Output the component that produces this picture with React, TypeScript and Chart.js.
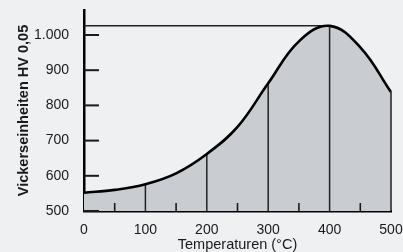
import React, { useEffect, useRef } from 'react';
import { Chart, registerables } from 'chart.js';

Chart.register(...registerables);

// ---- data ----
const temperatures = [0, 50, 100, 150, 200, 250, 300, 350, 400, 450, 500];
const hardness = [552, 560, 576, 607, 662, 739, 863, 982, 1026, 965, 838];
const dropTemps = [100, 200, 300, 400, 500];
const minorTemps = [50, 150, 250, 350, 450];
const xTickValues = [0, 100, 200, 300, 400, 500];
const xTickLabels = ['0', '100', '200', '300', '400', '500'];
const yTickValues = [500, 600, 700, 800, 900, 1000];
const yTickLabels = ['500', '600', '700', '800', '900', '1.000'];
const xTitle = 'Temperaturen (°C)';
const yTitle = 'Vickerseinheiten HV 0,05';

const BG = '#eff0f2';
const FILL = '#c9cdd1';
const INK = '#1a1a1a';
const FONT = '"Liberation Sans", Arial, sans-serif';

const innerTicks = {
  id: 'innerTicks',
  afterDatasetsDraw(chart: any) {
    const { ctx, scales } = chart;
    const x = scales.x;
    const y = scales.y;
    ctx.save();
    ctx.strokeStyle = INK;
    ctx.lineWidth = 2;
    const left = x.getPixelForValue(x.min);
    yTickValues.forEach((v) => {
      const py = y.getPixelForValue(v);
      ctx.beginPath();
      ctx.moveTo(left, py);
      ctx.lineTo(left + 15, py);
      ctx.stroke();
    });
    ctx.lineWidth = 1.6;
    const base = y.getPixelForValue(y.min);
    minorTemps.forEach((t) => {
      const px = x.getPixelForValue(t);
      ctx.beginPath();
      ctx.moveTo(px, base);
      ctx.lineTo(px, base - 8);
      ctx.stroke();
    });
    ctx.restore();
  },
};

export default function App() {
  const ref = useRef<HTMLCanvasElement | null>(null);

  useEffect(() => {
    document.body.style.margin = '0';
    document.body.style.background = BG;
    const canvas = ref.current;
    if (!canvas) return;

    const peakValue = Math.max(...hardness);
    const peakTemp = temperatures[hardness.indexOf(peakValue)];
    const yMin = yTickValues[0];

    const lineStyle = {
      borderColor: '#222',
      borderWidth: 1.5,
      pointRadius: 0,
      fill: false,
      clip: false as any,
      order: 1,
    };

    const drops = dropTemps.map((t) => ({
      ...lineStyle,
      label: 'drop ' + t,
      data: [
        { x: t, y: yMin },
        { x: t, y: hardness[temperatures.indexOf(t)] },
      ],
    }));

    const chart = new Chart(canvas, {
      type: 'line',
      data: {
        datasets: [
          {
            label: 'Härte',
            data: temperatures.map((t, i) => ({ x: t, y: hardness[i] })),
            borderColor: '#000',
            borderWidth: 2.6,
            backgroundColor: FILL,
            fill: 'start',
            pointRadius: 0,
            tension: 0.4,
            clip: false as any,
            order: 0,
          },
          ...drops,
          {
            ...lineStyle,
            label: 'peak',
            data: [
              { x: 0, y: peakValue },
              { x: peakTemp, y: peakValue },
            ],
          },
        ] as any,
      },
      options: {
        animation: false,
        responsive: true,
        maintainAspectRatio: false,
        layout: { padding: { top: 10, right: 12, left: 0, bottom: 0 } },
        plugins: {
          legend: { display: false },
          tooltip: { enabled: false },
          filler: { drawTime: 'beforeDatasetsDraw' } as any,
        },
        scales: {
          x: {
            type: 'linear',
            min: 0,
            max: 500,
            afterBuildTicks: (s: any) => {
              s.ticks = xTickValues.map((v) => ({ value: v }));
            },
            afterFit: (s: any) => {
              s.height = 41;
              s.paddingLeft = 0;
              s.paddingRight = 0;
            },
            ticks: {
              callback: (v: any) => xTickLabels[xTickValues.indexOf(Number(v))] ?? '',
              font: { family: FONT, size: 14 },
              color: INK,
              padding: 3,
              maxRotation: 0,
              autoSkip: false,
            },
            grid: { display: false },
            border: { display: true, color: '#000', width: 2.5 },
            title: {
              display: true,
              text: xTitle,
              font: { family: FONT, size: 14.5 },
              color: INK,
              padding: { top: 0, bottom: -2 },
            },
          },
          y: {
            type: 'linear',
            min: 500,
            max: 1071,
            afterBuildTicks: (s: any) => {
              s.ticks = yTickValues.map((v) => ({ value: v }));
            },
            afterFit: (s: any) => {
              s.width = 84;
              s.paddingTop = 0;
              s.paddingBottom = 0;
            },
            ticks: {
              callback: (v: any) => yTickLabels[yTickValues.indexOf(Number(v))] ?? '',
              font: { family: FONT, size: 14 },
              color: INK,
              padding: 7,
              autoSkip: false,
            },
            grid: { display: false },
            border: { display: true, color: '#000', width: 2.5 },
            title: {
              display: true,
              text: yTitle,
              font: { family: FONT, size: 14.5, weight: 'bold' },
              color: INK,
              padding: { top: 15, bottom: 0 },
            },
          },
        },
      },
      plugins: [innerTicks],
    });

    return () => chart.destroy();
  }, []);

  return (
    <div style={{ width: 403, height: 252, position: 'relative', background: BG }}>
      <canvas ref={ref} />
    </div>
  );
}
